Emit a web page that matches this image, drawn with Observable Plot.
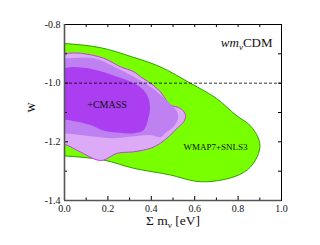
<!DOCTYPE html>
<html>
<head>
<meta charset="utf-8">
<script src="https://cdn.jsdelivr.net/npm/d3@7"></script>
<script src="https://cdn.jsdelivr.net/npm/@observablehq/plot@0.6"></script>
<style>
  body { margin: 0; background: #fff; }
  svg text { font-family: "Liberation Serif", serif !important; }
</style>
</head>
<body>
<script>
// ---- data (Σmν in eV, w) ----
const greenX = [-0.1, 0, 0.166, 0.31, 0.44, 0.58, 0.70, 0.79, 0.86, 0.90, 0.888, 0.842, 0.765, 0.657, 0.594, 0.488, 0.318, 0.18, 0, -0.1];
const greenW = [-0.865, -0.865, -0.879, -0.91, -0.944, -1.0, -1.052, -1.109, -1.148, -1.205, -1.251, -1.296, -1.323, -1.336, -1.333, -1.313, -1.29, -1.262, -1.248, -1.246];

const lightX = [-0.1, 0, 0.074, 0.181, 0.258, 0.319, 0.35, 0.396, 0.442, 0.458, 0.488, 0.535, 0.558, 0.55, 0.519, 0.488, 0.442, 0.396, 0.319, 0.243, 0.181, 0.151, 0.074, 0, -0.1];
const lightW = [-0.898, -0.898, -0.898, -0.915, -0.944, -0.961, -0.978, -1.0, -1.029, -1.046, -1.074, -1.086, -1.109, -1.131, -1.154, -1.177, -1.205, -1.222, -1.234, -1.239, -1.262, -1.262, -1.235, -1.208, -1.19];

const medX = [-0.1, 0, 0.134, 0.243, 0.304, 0.396, 0.442, 0.488, 0.519, 0.523, 0.504, 0.465, 0.442, 0.396, 0.298, 0.221, 0.144, 0, -0.1];
const medW = [-0.915, -0.915, -0.915, -0.949, -0.972, -1.012, -1.040, -1.071, -1.098, -1.120, -1.148, -1.170, -1.184, -1.177, -1.183, -1.188, -1.183, -1.171, -1.165];

const darkX = [-0.1, 0, 0.043, 0.135, 0.243, 0.335, 0.381, 0.394, 0.388, 0.365, 0.319, 0.243, 0.181, 0.12, 0, -0.1];
const darkW = [-0.948, -0.948, -0.945, -0.953, -0.978, -1.006, -1.040, -1.085, -1.114, -1.160, -1.171, -1.168, -1.162, -1.143, -1.124, -1.12];

const xTicks = [0, 0.2, 0.4, 0.6, 0.8, 1.0];
const xMinor = [0.1, 0.3, 0.5, 0.7, 0.9];
const yTicks = [-0.8, -1.0, -1.2, -1.4];
const yMinor = [-0.9, -1.1, -1.3];
const refW = [-1.0];

const labels = [
  {x: 0.196, w: -1.073, text: "+CMASS", size: 10},
  {x: 0.696, w: -1.218, text: "WMAP7+SNLS3", size: 9}
];
const titleText = "wmνCDM";
const xLabel = "Σ mν [eV]";
const yLabel = "w";

const toPts = (xs, ws) => xs.map((x, i) => ({x, w: ws[i]}));

const W = 320, H = 245, mL = 64, mR = 39, mT = 24, mB = 45;
const innerW = W - mL - mR, innerH = H - mT - mB;
const FF = "Liberation Serif";

const poly = (pts, fill, stroke) => Plot.line(pts, {
  x: "x", y: "w", fill, stroke: stroke || "none", strokeWidth: 1,
  curve: "catmull-rom-closed", clip: true
});

const chart = Plot.plot({
  width: W, height: H,
  marginLeft: mL, marginRight: mR, marginTop: mT, marginBottom: mB,
  style: {fontFamily: FF, background: "white"},
  x: {domain: [0, 1]},
  y: {domain: [-1.4, -0.8]},
  marks: [
    poly(toPts(greenX, greenW), "#78ff00", "#2e9e00"),
    poly(toPts(lightX, lightW), "#dcaaf6", "#c040e0"),
    poly(toPts(medX, medW), "#bf80f1"),
    poly(toPts(darkX, darkW), "#aa3ef0"),
    Plot.ruleY(refW, {stroke: "black", strokeWidth: 0.8, strokeDasharray: "3,2"}),
    Plot.text(labels, {x: "x", y: "w", text: "text", fontSize: "size", fill: "#111", textAnchor: "middle", fontFamily: FF}),
    // ticks (inward)
    Plot.tickX(xTicks, {x: d => d, insetTop: innerH - 4, stroke: "black"}),
    Plot.tickX(xMinor, {x: d => d, insetTop: innerH - 2.5, stroke: "black"}),
    Plot.tickX(xTicks.concat(xMinor), {x: d => d, insetBottom: innerH - 3, stroke: "black"}),
    Plot.tickY(yTicks, {y: d => d, insetRight: innerW - 4, stroke: "black"}),
    Plot.tickY(yMinor, {y: d => d, insetRight: innerW - 3, stroke: "black"}),
    Plot.tickY(yTicks.concat(yMinor), {y: d => d, insetLeft: innerW - 3, stroke: "black"}),
    Plot.frame({stroke: "black", strokeWidth: 1}),
    Plot.ruleX([0], {stroke: "#555", strokeWidth: 1.6}),
    Plot.ruleY([-1.4], {stroke: "#555", strokeWidth: 1.6}),
    Plot.axisX(xTicks, {tickSize: 0, tickPadding: 4, tickFormat: d => d.toFixed(1), fontSize: 10, label: null, fill: "#111", fontFamily: FF}),
    Plot.axisY(yTicks, {tickSize: 0, tickPadding: 4, tickFormat: d => d.toFixed(1), fontSize: 10, label: null, fill: "#111", fontFamily: FF}),
    Plot.text([xLabel], {frameAnchor: "bottom", dy: 24, text: d => d, fontSize: 13.5, fill: "#111", textAnchor: "middle", lineAnchor: "bottom", fontFamily: FF}),
    Plot.text([yLabel], {frameAnchor: "left", dx: -34, text: d => d, fontSize: 14, fill: "#111", rotate: -90, fontFamily: FF}),
    Plot.text([titleText], {frameAnchor: "top-right", dx: -9, dy: 22, text: d => d, fontSize: 13, fill: "#111", textAnchor: "end", lineAnchor: "bottom", fontFamily: FF})
  ]
});
document.body.append(chart);

// subscripts
d3.select(chart).selectAll("text").each(function () {
  const t = d3.select(this);
  const s = this.textContent;
  if (s === xLabel) {
    t.text(null);
    t.append("tspan").text("Σ m");
    t.append("tspan").attr("dy", 3).attr("font-size", 9).text("ν");
    t.append("tspan").attr("dy", -3).text(" [eV]");
  } else if (s === titleText) {
    t.text(null);
    t.append("tspan").attr("font-style", "italic").text("wm");
    t.append("tspan").attr("dy", 3).attr("font-size", 9).attr("font-style", "italic").text("ν");
    t.append("tspan").attr("dy", -3).text("CDM");
  }
});
</script>
</body>
</html>
